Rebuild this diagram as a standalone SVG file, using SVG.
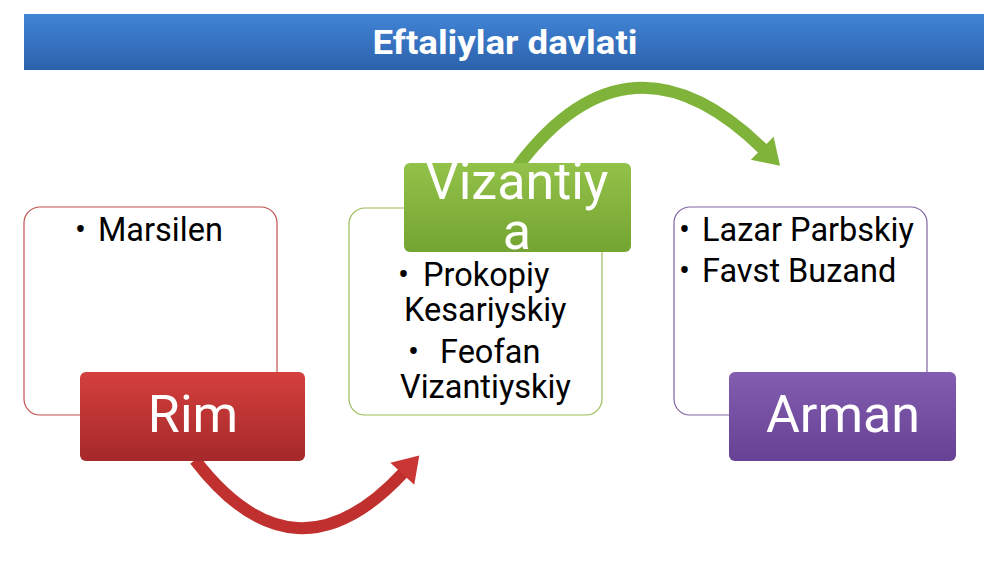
<svg xmlns="http://www.w3.org/2000/svg" width="1000" height="563" viewBox="0 0 1000 563">
<defs>
<linearGradient id="gBlue" x1="0" y1="0" x2="0" y2="1"><stop offset="0" stop-color="#4184d6"/><stop offset="1" stop-color="#2c62ab"/></linearGradient>
<linearGradient id="gRed" x1="0" y1="0" x2="0" y2="1"><stop offset="0" stop-color="#d4403d"/><stop offset="1" stop-color="#a5282a"/></linearGradient>
<linearGradient id="gGreen" x1="0" y1="0" x2="0" y2="1"><stop offset="0" stop-color="#93c24a"/><stop offset="1" stop-color="#74a431"/></linearGradient>
<linearGradient id="gPurple" x1="0" y1="0" x2="0" y2="1"><stop offset="0" stop-color="#835db0"/><stop offset="1" stop-color="#674193"/></linearGradient>
<marker id="mRed" markerUnits="userSpaceOnUse" markerWidth="40" markerHeight="40" viewBox="-4 -16 30 32" refX="0" refY="0" orient="auto"><path d="M-2,-13 L18,0 L-2,13 Z" fill="#c93634"/></marker>
<marker id="mGreen" markerUnits="userSpaceOnUse" markerWidth="40" markerHeight="40" viewBox="-4 -16 30 32" refX="0" refY="0" orient="auto"><path d="M-2,-13 L18,0 L-2,13 Z" fill="#7fb33a"/></marker>
</defs>
<style>
.outline{fill:#fff;stroke-width:1.2}
.lbl{font-family:Roboto,"Liberation Sans",sans-serif;font-size:52px;fill:#fff;text-anchor:middle}
.item{font-family:Roboto,"Liberation Sans",sans-serif;font-size:32.5px;fill:#000}
.arrow{fill:none;stroke-width:12}
</style>
<rect width="1000" height="563" fill="#fff"/>
<g id="header">
<rect x="24" y="14" width="960" height="56" fill="url(#gBlue)"/>
<text x="505" y="54" font-family="Roboto,'Liberation Sans',sans-serif" font-weight="bold" font-size="34" fill="#fff" text-anchor="middle" textLength="265" lengthAdjust="spacingAndGlyphs">Eftaliylar davlati</text>
</g>
<g id="connectors">
<path class="arrow" d="M195,460 Q295,590 404,472" stroke="#c0302e" marker-end="url(#mRed)"/>
<path class="arrow" d="M518,166 Q630,18 764,150" stroke="#7fb33a" marker-end="url(#mGreen)"/>
</g>
<g id="rim">
<rect class="outline" x="24" y="207" width="253" height="208" rx="16" stroke="#c0504d"/>
<text class="item" x="75" y="241">•</text>
<text class="item" x="98" y="241">Marsilen</text>
<rect x="80" y="372" width="225" height="89" rx="6" fill="url(#gRed)"/>
<text class="lbl" x="193" y="432">Rim</text>
</g>
<g id="vizantiya">
<rect class="outline" x="349" y="208" width="253" height="207" rx="16" stroke="#9bbb59"/>
<rect x="404" y="163" width="227" height="89" rx="6" fill="url(#gGreen)"/>
<text class="lbl" x="517" y="199">Vizantiy</text>
<text class="lbl" x="517" y="249">a</text>
<text class="item" x="398" y="286">•</text>
<text class="item" x="423" y="286">Prokopiy</text>
<text class="item" x="404" y="321">Kesariyskiy</text>
<text class="item" x="408" y="363">•</text>
<text class="item" x="440" y="363">Feofan</text>
<text class="item" x="400" y="398">Vizantiyskiy</text>
</g>
<g id="arman">
<rect class="outline" x="674" y="207" width="253" height="208" rx="16" stroke="#8064a2"/>
<text class="item" x="679" y="241">•</text>
<text class="item" x="702" y="241">Lazar Parbskiy</text>
<text class="item" x="679" y="282">•</text>
<text class="item" x="702" y="282">Favst Buzand</text>
<rect x="729" y="372" width="227" height="89" rx="6" fill="url(#gPurple)"/>
<text class="lbl" x="843" y="432">Arman</text>
</g>
</svg>
